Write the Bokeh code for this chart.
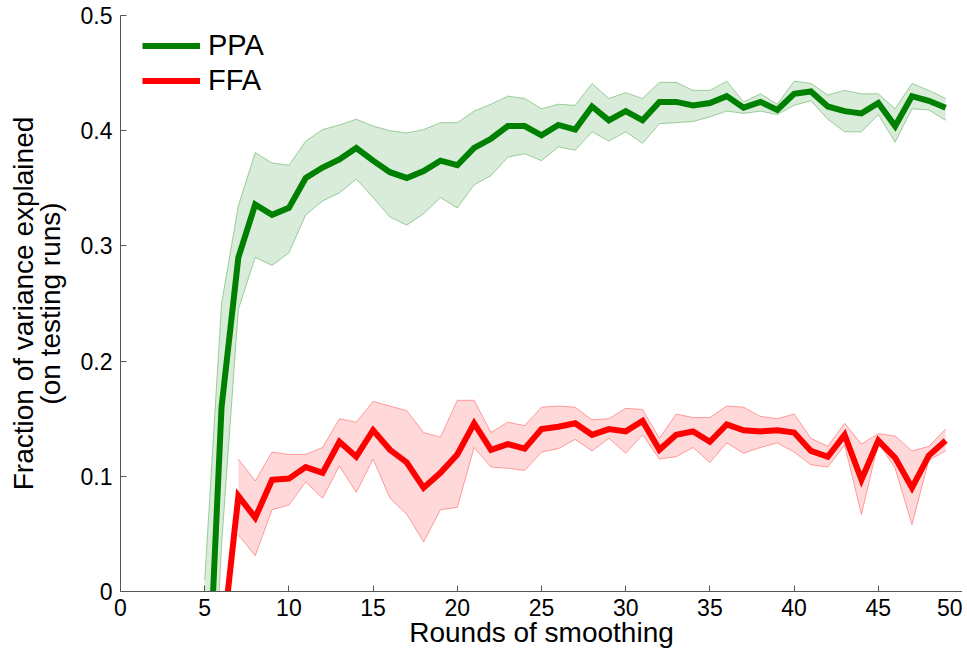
from bokeh.plotting import figure
from bokeh.models import Range1d, FixedTicker, Legend, LegendItem
from bokeh.embed import file_html
from bokeh.resources import INLINE

# ---- data ----
ppa_x = list(range(5, 50))
ppa_mean = [-0.16, 0.16, 0.29, 0.336, 0.327, 0.333, 0.359, 0.368, 0.375, 0.385,
            0.374, 0.364, 0.359, 0.365, 0.374, 0.370, 0.385, 0.393, 0.404, 0.404,
            0.396, 0.405, 0.401, 0.421, 0.409, 0.417, 0.409, 0.425, 0.425, 0.422,
            0.424, 0.430, 0.420, 0.425, 0.418, 0.432, 0.434, 0.421, 0.417, 0.415,
            0.424, 0.404, 0.430, 0.426, 0.420]
ppa_upper = [0.01, 0.25, 0.335, 0.381, 0.372, 0.370, 0.391, 0.401, 0.405, 0.410,
             0.404, 0.400, 0.398, 0.401, 0.407, 0.407, 0.417, 0.423, 0.430, 0.428,
             0.419, 0.423, 0.422, 0.441, 0.428, 0.433, 0.428, 0.442, 0.442, 0.435,
             0.435, 0.443, 0.425, 0.432, 0.423, 0.443, 0.441, 0.431, 0.435, 0.432,
             0.432, 0.419, 0.441, 0.435, 0.428]
ppa_lower = [-0.25, 0.04, 0.245, 0.290, 0.283, 0.294, 0.327, 0.339, 0.346, 0.358,
             0.342, 0.325, 0.318, 0.328, 0.342, 0.333, 0.353, 0.361, 0.377, 0.380,
             0.374, 0.386, 0.383, 0.399, 0.391, 0.399, 0.389, 0.406, 0.407, 0.408,
             0.412, 0.417, 0.415, 0.417, 0.414, 0.422, 0.426, 0.410, 0.399, 0.399,
             0.414, 0.390, 0.419, 0.418, 0.409]

ffa_x = list(range(6, 50))
ffa_mean = [-0.05, 0.083, 0.064, 0.097, 0.098, 0.108, 0.103, 0.130, 0.117, 0.140,
            0.123, 0.112, 0.090, 0.103, 0.119, 0.146, 0.123, 0.128, 0.124, 0.141,
            0.143, 0.146, 0.136, 0.141, 0.139, 0.148, 0.123, 0.136, 0.139, 0.130,
            0.145, 0.140, 0.139, 0.140, 0.138, 0.122, 0.117, 0.136, 0.097, 0.131,
            0.116, 0.090, 0.118, 0.131]
ffa_band_x = list(range(7, 50))
ffa_upper = [0.115, 0.096, 0.121, 0.119, 0.119, 0.125, 0.150, 0.147, 0.165, 0.161,
             0.157, 0.138, 0.134, 0.166, 0.166, 0.138, 0.147, 0.144, 0.160, 0.161,
             0.160, 0.149, 0.150, 0.159, 0.158, 0.133, 0.154, 0.151, 0.151, 0.161,
             0.160, 0.152, 0.150, 0.154, 0.133, 0.126, 0.146, 0.128, 0.137, 0.135,
             0.122, 0.126, 0.141]
ffa_lower = [0.049, 0.031, 0.071, 0.075, 0.095, 0.081, 0.109, 0.086, 0.115, 0.081,
             0.067, 0.043, 0.071, 0.073, 0.125, 0.108, 0.107, 0.105, 0.121, 0.124,
             0.132, 0.122, 0.133, 0.120, 0.136, 0.115, 0.117, 0.125, 0.112, 0.129,
             0.120, 0.125, 0.129, 0.121, 0.110, 0.108, 0.127, 0.067, 0.129, 0.107,
             0.058, 0.114, 0.122]

x_ticks = [0, 5, 10, 15, 20, 25, 30, 35, 40, 45, 50]
y_ticks = [0, 0.1, 0.2, 0.3, 0.4, 0.5]
y_tick_labels = ["0", "0.1", "0.2", "0.3", "0.4", "0.5"]
x_title = "Rounds of smoothing"
y_title = "Fraction of variance explained\n(on testing runs)"

FONT = "Liberation Sans"
AXIS_COLOR = "#555555"

p = figure(width=962, height=650, output_backend="svg", toolbar_location=None,
           x_range=Range1d(0, 50), y_range=Range1d(0, 0.5),
           min_border_left=120, min_border_right=0, min_border_top=15,
           min_border_bottom=0)
p.outline_line_color = None
p.xgrid.visible = False
p.ygrid.visible = False

# bands
p.varea(x=ppa_x, y1=ppa_lower, y2=ppa_upper, fill_color="green", fill_alpha=0.15)
p.line(ppa_x, ppa_upper, line_color="green", line_alpha=0.35, line_width=1)
p.line(ppa_x, ppa_lower, line_color="green", line_alpha=0.35, line_width=1)
p.varea(x=ffa_band_x, y1=ffa_lower, y2=ffa_upper, fill_color="red", fill_alpha=0.15)
p.line(ffa_band_x, ffa_upper, line_color="red", line_alpha=0.35, line_width=1)
p.line(ffa_band_x, ffa_lower, line_color="red", line_alpha=0.35, line_width=1)

# mean lines
l1 = p.line(ppa_x, ppa_mean, line_color="green", line_width=6, line_join="miter")
l2 = p.line(ffa_x, ffa_mean, line_color="red", line_width=6, line_join="miter")

legend = Legend(items=[LegendItem(label="PPA", renderers=[l1]),
                       LegendItem(label="FFA", renderers=[l2])],
                location=(22, 494), orientation="vertical")
legend.background_fill_alpha = 0
legend.border_line_color = None
legend.padding = 0
legend.margin = 0
legend.spacing = 2
legend.glyph_width = 58
legend.glyph_height = 31
legend.label_height = 31
legend.label_standoff = 8
legend.label_text_font = FONT
legend.label_text_font_size = "29px"
legend.label_text_color = "black"
p.add_layout(legend)

for ax in (p.xaxis[0], p.yaxis[0]):
    ax.axis_line_color = AXIS_COLOR
    ax.major_tick_line_color = AXIS_COLOR
    ax.major_tick_in = 6
    ax.major_tick_out = 0
    ax.minor_tick_line_color = None
    ax.major_label_text_font = FONT
    ax.major_label_text_font_size = "23px"
    ax.major_label_text_color = "black"
    ax.axis_label_text_font = FONT
    ax.axis_label_text_font_size = "28px"
    ax.axis_label_text_font_style = "normal"
    ax.axis_label_text_color = "black"
    ax.axis_label_text_line_height = 0.85

p.xaxis.ticker = FixedTicker(ticks=x_ticks)
p.yaxis.ticker = FixedTicker(ticks=y_ticks)
p.yaxis.major_label_overrides = {t: s for t, s in zip(y_ticks, y_tick_labels)}
p.xaxis.major_label_standoff = 7
p.yaxis.major_label_standoff = 8
p.xaxis.axis_label = x_title
p.xaxis.axis_label_standoff = -2
p.yaxis.axis_label = y_title
p.yaxis.axis_label_standoff = 12

open("out.html", "w").write(file_html(p, INLINE))
